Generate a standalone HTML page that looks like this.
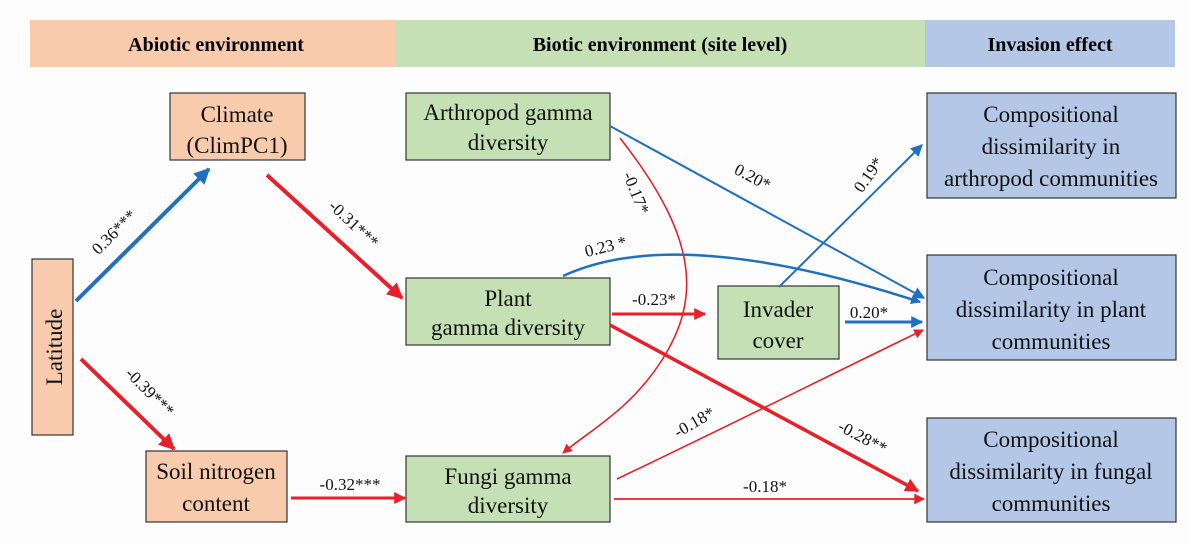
<!DOCTYPE html>
<html><head><meta charset="utf-8"><style>
body{margin:0;background:#fdfdfd;}
svg{display:block;font-family:"Liberation Serif",serif;}
</style></head><body>
<svg width="1189" height="545" viewBox="0 0 1189 545" xmlns="http://www.w3.org/2000/svg">
<defs>
<marker id="rb" viewBox="0 0 10 10" refX="9" refY="5" markerWidth="4" markerHeight="4" orient="auto" markerUnits="strokeWidth"><path d="M0,0 L10,5 L0,10z" fill="#e8202a"/></marker>
<marker id="rt" viewBox="0 0 10 10" refX="9" refY="5" markerWidth="7" markerHeight="6" orient="auto" markerUnits="strokeWidth"><path d="M0,0 L10,5 L0,10z" fill="#e8202a"/></marker>
<marker id="bb" viewBox="0 0 10 10" refX="9" refY="5" markerWidth="4" markerHeight="4" orient="auto" markerUnits="strokeWidth"><path d="M0,0 L10,5 L0,10z" fill="#2070c0"/></marker>
<marker id="bt" viewBox="0 0 10 10" refX="9" refY="5" markerWidth="7" markerHeight="6" orient="auto" markerUnits="strokeWidth"><path d="M0,0 L10,5 L0,10z" fill="#2070c0"/></marker>
</defs>
<rect x="30" y="20" width="365" height="47" fill="#f8cbad"/>
<rect x="395" y="20" width="530" height="47" fill="#c5e0b4"/>
<rect x="925" y="20" width="250" height="47" fill="#b4c7e7"/>
<g font-weight="bold" font-size="20" text-anchor="middle">
<text x="216" y="51">Abiotic environment</text>
<text x="660" y="51">Biotic environment (site level)</text>
<text x="1050" y="51">Invasion effect</text>
</g>
<g stroke="#333" stroke-width="1.2">
<rect x="170" y="93" width="135" height="67" fill="#f8cbad"/>
<rect x="32" y="259" width="41" height="176" fill="#f8cbad"/>
<rect x="146" y="451" width="141" height="71" fill="#f8cbad"/>
<rect x="406" y="93" width="204" height="67" fill="#c5e0b4"/>
<rect x="406" y="278" width="204" height="67" fill="#c5e0b4"/>
<rect x="406" y="456" width="204" height="66" fill="#c5e0b4"/>
<rect x="718" y="286" width="121" height="73" fill="#c5e0b4"/>
<rect x="927" y="93" width="249" height="105" fill="#b4c7e7"/>
<rect x="927" y="255" width="249" height="105" fill="#b4c7e7"/>
<rect x="927" y="418" width="249" height="104" fill="#b4c7e7"/>
</g>
<g font-size="23" text-anchor="middle" fill="#111">
<text x="237" y="122">Climate</text><text x="237" y="153">(ClimPC1)</text>
<text x="0" y="0" transform="translate(62,347) rotate(-90)">Latitude</text>
<text x="216" y="479">Soil nitrogen</text><text x="216" y="511">content</text>
<text x="508" y="120">Arthropod gamma</text><text x="508" y="150">diversity</text>
<text x="508" y="306">Plant</text><text x="508" y="335">gamma diversity</text>
<text x="508" y="484">Fungi gamma</text><text x="508" y="513">diversity</text>
<text x="778" y="317">Invader</text><text x="778" y="348">cover</text>
<text x="1051" y="122">Compositional</text><text x="1051" y="154">dissimilarity in</text><text x="1051" y="186">arthropod communities</text>
<text x="1051" y="285">Compositional</text><text x="1051" y="317">dissimilarity in plant</text><text x="1051" y="349">communities</text>
<text x="1051" y="447">Compositional</text><text x="1051" y="479">dissimilarity in fungal</text><text x="1051" y="511">communities</text>
</g>
<g fill="none">
<line x1="76" y1="301" x2="209" y2="169" stroke="#2070c0" stroke-width="4" marker-end="url(#bb)"/>
<line x1="267" y1="175" x2="402" y2="298" stroke="#e8202a" stroke-width="4" marker-end="url(#rb)"/>
<line x1="81" y1="359" x2="174" y2="449" stroke="#e8202a" stroke-width="4" marker-end="url(#rb)"/>
<line x1="291" y1="498" x2="405" y2="498" stroke="#e8202a" stroke-width="3" marker-end="url(#rb)"/>
<line x1="610" y1="126" x2="924" y2="298" stroke="#2070c0" stroke-width="2" marker-end="url(#bt)"/>
<path d="M620,138 C700,240 700,300 662,360 C630,410 590,430 563,453" stroke="#e8202a" stroke-width="1.6" marker-end="url(#rt)"/>
<path d="M563,276 C640,240 760,250 920,302" stroke="#2070c0" stroke-width="2.5" marker-end="url(#bb)"/>
<line x1="612" y1="314" x2="705" y2="314" stroke="#e8202a" stroke-width="3" marker-end="url(#rb)"/>
<line x1="779" y1="287" x2="922" y2="145" stroke="#2070c0" stroke-width="2" marker-end="url(#bt)"/>
<line x1="845" y1="322" x2="922" y2="322" stroke="#2070c0" stroke-width="3" marker-end="url(#bb)"/>
<line x1="610" y1="325" x2="918" y2="491" stroke="#e8202a" stroke-width="3.5" marker-end="url(#rb)"/>
<path d="M617,479 C720,430 820,380 923,330" stroke="#e8202a" stroke-width="1.6" marker-end="url(#rt)"/>
<line x1="614" y1="499" x2="924" y2="499" stroke="#e8202a" stroke-width="1.8" marker-end="url(#rt)"/>
</g>
<g font-size="17" fill="#111" text-anchor="middle">
<text transform="translate(118,236) rotate(-45)">0.36***</text>
<text transform="translate(350,228) rotate(43)">-0.31***</text>
<text transform="translate(146,396) rotate(45)">-0.39***</text>
<text x="350" y="490">-0.32***</text>
<text transform="translate(750,182) rotate(28)">0.20*</text>
<text transform="translate(631,195) rotate(68)">-0.17*</text>
<text transform="translate(607,252) rotate(-14)">0.23 *</text>
<text x="654" y="305">-0.23*</text>
<text transform="translate(873,178) rotate(-55)">0.19*</text>
<text x="869" y="318">0.20*</text>
<text transform="translate(860,442) rotate(28)">-0.28**</text>
<text transform="translate(697,427) rotate(-30)">-0.18*</text>
<text x="765" y="492">-0.18*</text>
</g>
</svg>
</body></html>
